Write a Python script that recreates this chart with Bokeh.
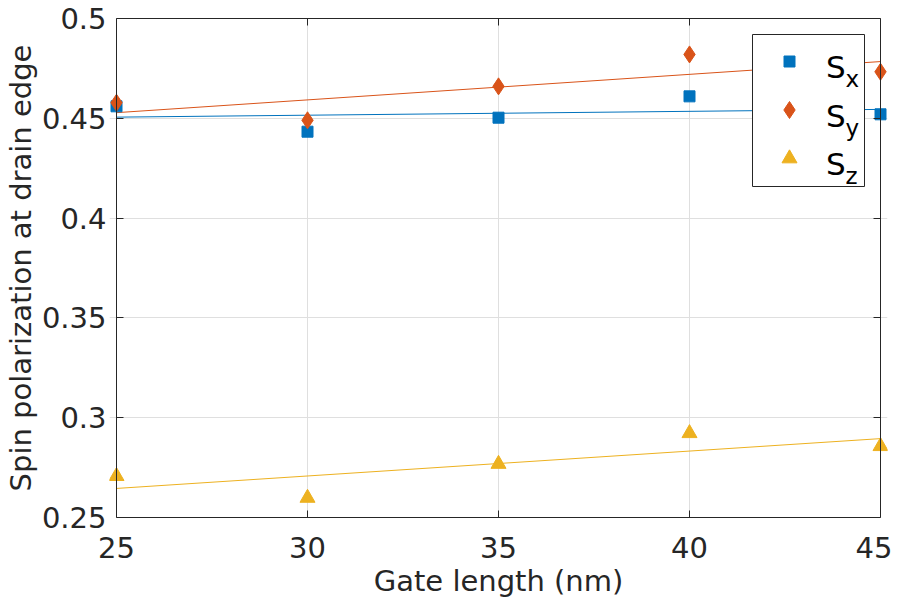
import numpy as np
from bokeh.plotting import figure
from bokeh.models import Range1d, FixedTicker, LinearAxis
from bokeh.embed import file_html
from bokeh.resources import INLINE
from bokeh.core.properties import value

# ---------------- data ----------------
gate_length = [25, 30, 35, 40, 45]
sx = [0.456, 0.4433, 0.4503, 0.461, 0.452]
sy = [0.4578, 0.449, 0.466, 0.482, 0.4733]
sz = [0.2707, 0.2598, 0.2768, 0.2922, 0.2857]

x_ticks = [25, 30, 35, 40, 45]
x_tick_labels = ["25", "30", "35", "40", "45"]
y_ticks = [0.25, 0.3, 0.35, 0.4, 0.45, 0.5]
y_tick_labels = ["0.25", "0.3", "0.35", "0.4", "0.45", "0.5"]

x_title = "Gate length (nm)"
y_title = "Spin polarization at drain edge"
legend_main = ["S", "S", "S"]
legend_sub = ["x", "y", "z"]

# ---------------- style ----------------
FONT = "DejaVu Sans"
FS = "29px"
TXT = "#262626"
C_X, C_Y, C_Z = "#0072BD", "#D95319", "#EDB120"
AX_W, FH = 764, 499          # axes box size in px
PAD = 7                      # room so edge markers are not clipped
FW = AX_W + 2 * PAD
XMIN, XMAX = 25, 45
d = PAD * (XMAX - XMIN) / AX_W

p = figure(frame_width=FW, frame_height=FH,
           x_range=Range1d(XMIN - d, XMAX + d), y_range=Range1d(0.25, 0.5),
           output_backend="svg", toolbar_location=None,
           min_border_left=116 - PAD, min_border_top=18,
           min_border_right=5, min_border_bottom=60)
p.background_fill_color = "white"
p.border_fill_color = "white"
p.outline_line_color = None

# pixel ranges used to lay out the legend inside the frame
p.extra_x_ranges = {"px": Range1d(0, FW)}
p.extra_y_ranges = {"py": Range1d(0, FH)}

for ax, ticks, labels in ((p.xaxis[0], x_ticks, x_tick_labels), (p.yaxis[0], y_ticks, y_tick_labels)):
    ax.ticker = FixedTicker(ticks=ticks)
    ax.major_label_overrides = dict(zip(ticks, labels))
    ax.major_label_text_font = FONT
    ax.major_label_text_font_size = FS
    ax.major_label_text_color = TXT
    ax.axis_label_text_font = FONT
    ax.axis_label_text_font_size = FS
    ax.axis_label_text_font_style = "normal"
    ax.axis_label_text_color = TXT
    ax.major_tick_in = 7
    ax.major_tick_out = 0
    ax.minor_tick_line_color = None

# bottom axis: line + ticks + labels, spanning 25..45
p.xaxis.axis_label = x_title
p.xaxis.bounds = (XMIN, XMAX)
p.xaxis.axis_line_color = TXT
p.xaxis.major_tick_line_color = TXT
p.xaxis.major_label_standoff = 19
p.xaxis.axis_label_standoff = 3

# left axis: labels only (the line sits at x = 25 below)
p.yaxis.axis_label = y_title
p.yaxis.axis_line_color = None
p.yaxis.major_tick_line_color = None
p.yaxis.major_label_standoff = PAD - 4
p.yaxis.axis_label_standoff = 1


def box_axis(ticks, **kw):
    return LinearAxis(ticker=FixedTicker(ticks=ticks),
                      major_label_overrides={t: "" for t in ticks},
                      major_tick_in=7, major_tick_out=0, major_label_standoff=0,
                      axis_line_color=TXT, major_tick_line_color=TXT,
                      minor_tick_line_color=None, **kw)


p.add_layout(box_axis(x_ticks, bounds=(XMIN, XMAX)), "above")
p.add_layout(box_axis(y_ticks, fixed_location=XMAX), "right")
p.add_layout(box_axis(y_ticks, fixed_location=XMIN), "left")

p.xgrid.ticker = FixedTicker(ticks=x_ticks)
p.ygrid.ticker = FixedTicker(ticks=y_ticks)
p.ygrid.bounds = (XMIN, XMAX)
p.grid.grid_line_color = "#dfdfdf"
p.grid.grid_line_width = 1

# ---------------- fits + markers ----------------
xs = np.array(gate_length, dtype=float)
xend = np.array([xs.min(), xs.max()])
for ys, c in ((sx, C_X), (sy, C_Y), (sz, C_Z)):
    k, b = np.polyfit(xs, np.array(ys), 1)
    p.line(xend, k * xend + b, line_color=c, line_width=1)

p.scatter(gate_length, sx, marker="square", size=11, fill_color=C_X, line_color=C_X)
p.scatter(gate_length, sy, marker="diamond", size=17, fill_color=C_Y, line_color=C_Y)
p.scatter(gate_length, sz, marker="triangle", size=15, fill_color=C_Z, line_color=C_Z)

# ---------------- legend (pixel layout inside the frame) ----------------
LEFT, RIGHT, TOP, BOTTOM = 636 + PAD, 748 + PAD, 483, 331
p.quad(left=[LEFT], right=[RIGHT], top=[TOP], bottom=[BOTTOM],
       fill_color="white", line_color=TXT, line_width=1,
       x_range_name="px", y_range_name="py")
pitch = 48.5
mx = 673 + PAD
my = [456 - pitch * i for i in range(3)]
p.scatter([mx], [my[0]], marker="square", size=11, fill_color=C_X, line_color=C_X,
          x_range_name="px", y_range_name="py")
p.scatter([mx], [my[1]], marker="diamond", size=17, fill_color=C_Y, line_color=C_Y,
          x_range_name="px", y_range_name="py")
p.scatter([mx], [my[2]], marker="triangle", size=15, fill_color=C_Z, line_color=C_Z,
          x_range_name="px", y_range_name="py")
base = [450.3 - pitch * i for i in range(3)]
p.text(x=[709.5 + PAD] * 3, y=base, text=legend_main,
       text_font=value(FONT), text_font_size="31px", text_color="black",
       text_baseline="alphabetic", text_align="left",
       x_range_name="px", y_range_name="py")
p.text(x=[729 + PAD] * 3, y=[b - 12 for b in base], text=legend_sub,
       text_font=value(FONT), text_font_size="23px", text_color="black",
       text_baseline="alphabetic", text_align="left",
       x_range_name="px", y_range_name="py")

open("out.html", "w").write(file_html(p, INLINE))
